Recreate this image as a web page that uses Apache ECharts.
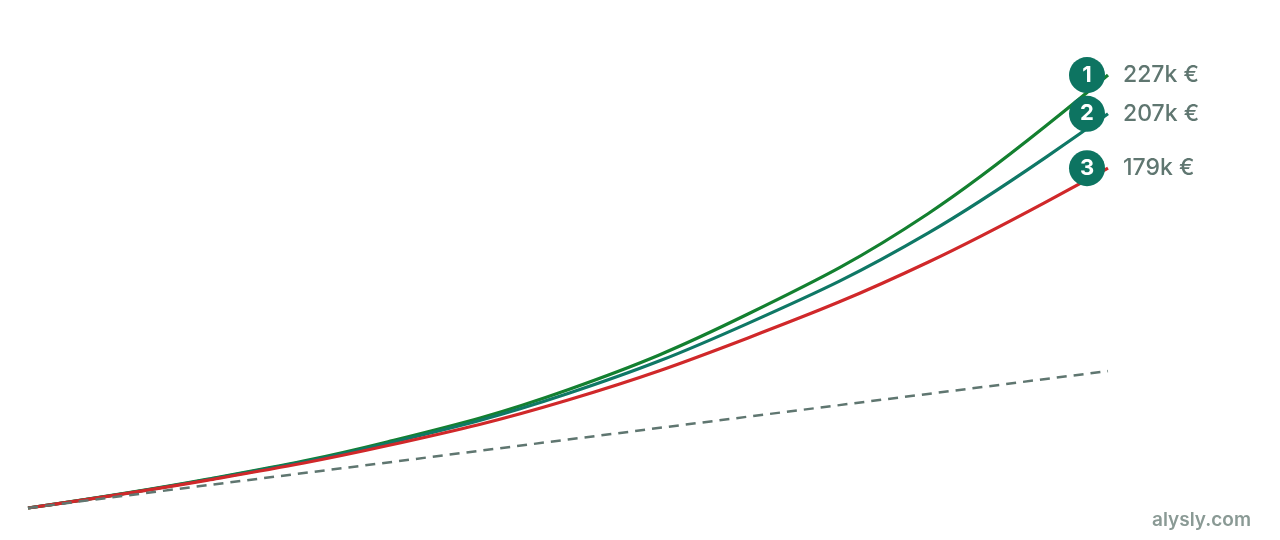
<!DOCTYPE html>
<html>
<head>
<meta charset="utf-8">
<script src="https://cdn.jsdelivr.net/npm/echarts@6/dist/echarts.min.js"></script>
<style>
html,body{margin:0;padding:0;background:#fff;}
#chart{width:1280px;height:540px;}
</style>
</head>
<body>
<div id="chart"></div>
<script>
// years since start
const years = [0, 5, 10, 15, 20, 25, 30];
// portfolio values in k€
const series1 = [3.8, 18.7, 38.0, 64.8, 103.8, 155.5, 227];
const series2 = [3.8, 18.5, 37.2, 62.8, 99.0, 145.5, 207];
const series3 = [3.8, 18.2, 36.0, 59.5, 91.5, 130.5, 179];
const contributions = [3.8, 15.6, 27.3, 39.1, 50.9, 62.6, 74.4];
const endLabels = ['227k €', '207k €', '179k €'];
const ranks = ['1', '2', '3'];

const colors = ['#138030', '#0f7866', '#d0282a'];
const badgeColor = '#0d7461';
const textColor = '#5f7670';

function pairs(vals) { return years.map((y, i) => [y, vals[i]]); }

function curve(vals, idx) {
  const data = pairs(vals);
  const last = data[data.length - 1];
  return {
    type: 'line',
    data: data,
    smooth: 0.4,
    symbol: 'none',
    lineStyle: { color: colors[idx], width: 3.2 },
    z: 3,
    endLabel: {
      show: true,
      formatter: endLabels[idx],
      distance: 15,
      color: textColor,
      fontFamily: 'Inter',
      fontSize: 23,
      fontWeight: 500
    },
    markPoint: {
      symbol: 'circle',
      symbolSize: 36,
      symbolOffset: [-21, 0],
      silent: true,
      z: 10,
      itemStyle: { color: badgeColor },
      label: {
        show: true,
        formatter: ranks[idx],
        color: '#fff',
        fontFamily: 'Inter',
        fontSize: 22,
        fontWeight: 'bold'
      },
      data: [{ coord: last }]
    }
  };
}

const chart = echarts.init(document.getElementById('chart'));
chart.setOption({
  animation: false,
  backgroundColor: '#fff',
  grid: { left: 28, right: 172, top: 30.4, bottom: 24.6 },
  xAxis: { type: 'value', min: 0, max: 30, show: false },
  yAxis: { type: 'value', min: 0, max: 250, show: false },
  graphic: [{
    type: 'text',
    right: 29,
    top: 511,
    style: {
      text: 'alysly.com',
      fill: '#8a9a95',
      font: '600 19px Inter'
    }
  }],
  series: [
    curve(series1, 0),
    curve(series2, 1),
    curve(series3, 2),
    {
      type: 'line',
      data: pairs(contributions),
      symbol: 'none',
      z: 4,
      lineStyle: { color: '#5f7670', width: 2.5, type: [10, 7] }
    }
  ]
});
</script>
</body>
</html>
